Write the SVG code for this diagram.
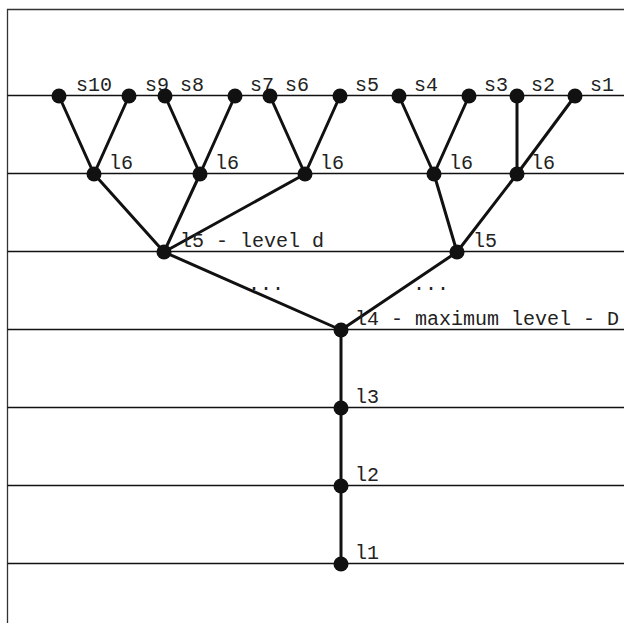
<svg xmlns="http://www.w3.org/2000/svg" width="624" height="623" viewBox="0 0 624 623">
<style>
.lvl{stroke:#111;stroke-width:1.3;fill:none}
.frame{stroke:#333;stroke-width:1.3;fill:none}
.e{stroke:#111;stroke-width:3;fill:none}
.n{fill:#111}
text{font-family:"Liberation Mono","Courier New",monospace;font-size:20px;fill:#222}
</style>
<rect width="624" height="623" fill="#fff"/>
<g id="frame">
<path class="frame" d="M7.5 623 V9.5 H624"/>
<path class="lvl" d="M7.5 95.5H624M7.5 173.5H624M7.5 251.5H624M7.5 329.5H624M7.5 407.5H624M7.5 485.5H624M7.5 563.5H624"/>
</g>
<g id="connectors">
<path class="e" d="M59 96L94 174M129 96L94 174M165 96L200 174M235 96L200 174M270 96L305 174M340 96L305 174M399 96L434 174M469 96L434 174M517 96L517 174M575 96L517 174"/>
<path class="e" d="M94 174L164 252M200 174L164 252M305 174L164 252M434 174L457 252M517 174L457 252"/>
<path class="e" d="M164 252L341 330M457 252L341 330M341 330V564"/>
</g>
<g id="s10"><circle class="n" cx="59" cy="96" r="7.5"/><text x="76" y="91">s10</text></g>
<g id="s9"><circle class="n" cx="129" cy="96" r="7.5"/><text x="145" y="91">s9</text></g>
<g id="s8"><circle class="n" cx="165" cy="96" r="7.5"/><text x="180" y="91">s8</text></g>
<g id="s7"><circle class="n" cx="235" cy="96" r="7.5"/><text x="250" y="91">s7</text></g>
<g id="s6"><circle class="n" cx="270" cy="96" r="7.5"/><text x="285" y="91">s6</text></g>
<g id="s5"><circle class="n" cx="340" cy="96" r="7.5"/><text x="355" y="91">s5</text></g>
<g id="s4"><circle class="n" cx="399" cy="96" r="7.5"/><text x="414" y="91">s4</text></g>
<g id="s3"><circle class="n" cx="469" cy="96" r="7.5"/><text x="484" y="91">s3</text></g>
<g id="s2"><circle class="n" cx="517" cy="96" r="7.5"/><text x="531" y="91">s2</text></g>
<g id="s1"><circle class="n" cx="575" cy="96" r="7.5"/><text x="590" y="91">s1</text></g>
<g id="l6a"><circle class="n" cx="94" cy="174" r="7.5"/><text x="109" y="169">l6</text></g>
<g id="l6b"><circle class="n" cx="200" cy="174" r="7.5"/><text x="215" y="169">l6</text></g>
<g id="l6c"><circle class="n" cx="305" cy="174" r="7.5"/><text x="320" y="169">l6</text></g>
<g id="l6d"><circle class="n" cx="434" cy="174" r="7.5"/><text x="449" y="169">l6</text></g>
<g id="l6e"><circle class="n" cx="517" cy="174" r="7.5"/><text x="531" y="169">l6</text></g>
<g id="l5a"><circle class="n" cx="164" cy="252" r="7.5"/><text x="180" y="247">l5 - level d</text></g>
<g id="l5b"><circle class="n" cx="457" cy="252" r="7.5"/><text x="473" y="247">l5</text></g>
<g id="dots"><text x="248" y="290">...</text><text x="413" y="290">...</text></g>
<g id="l4"><circle class="n" cx="341" cy="330" r="7.5"/><text x="355" y="325">l4 - maximum level - D</text></g>
<g id="l3"><circle class="n" cx="341" cy="408" r="7.5"/><text x="355" y="403">l3</text></g>
<g id="l2"><circle class="n" cx="341" cy="486" r="7.5"/><text x="355" y="481">l2</text></g>
<g id="l1"><circle class="n" cx="341" cy="564" r="7.5"/><text x="355" y="559">l1</text></g>
</svg>
